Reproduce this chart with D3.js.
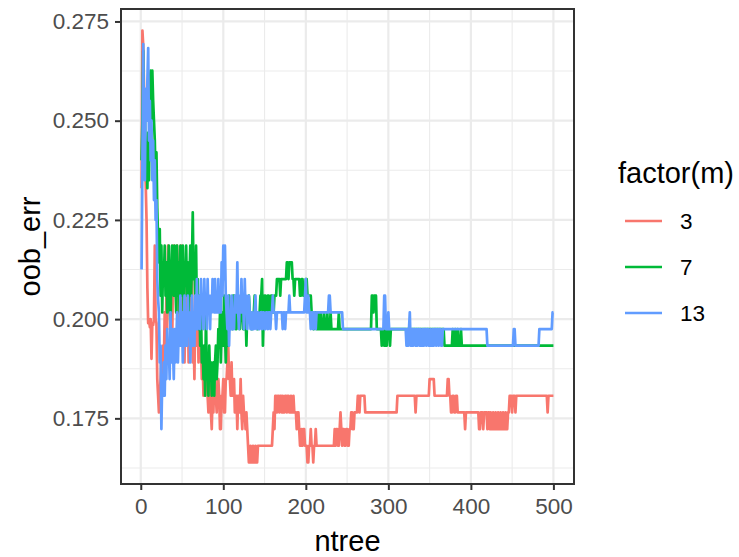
<!DOCTYPE html>
<html>
<head>
<meta charset="utf-8">
<script src="https://cdn.jsdelivr.net/npm/d3@7"></script>
<style>
  html, body { margin: 0; padding: 0; background: #fff; }
  svg text { font-family: "Liberation Sans", Arial, Helvetica, sans-serif; }
</style>
</head>
<body>
<svg id="chart" width="739" height="557"></svg>
<script>
// cambios de la serie: [ntree, oob_err] cada vez que el valor cambia
const cambios3 = [
  [1,.2330],[2,.2727],[3,.2690],[4,.2580],[5,.2440],[6,.2340],[7,.2250],[8,.2080],[9,.1990],[10,.2000],
  [11,.1980],[12,.2000],[13,.1900],[14,.1990],[15,.1985],[16,.2000],[17,.2185],[18,.2000],[19,.1990],[20,.1849],
  [21,.1807],[22,.1765],[23,.1807],[24,.1849],[25,.1891],[26,.1849],[27,.1933],[28,.1891],[29,.2017],[30,.1933],
  [31,.2059],[32,.1975],[33,.2185],[34,.2101],[35,.2017],[36,.2143],[37,.2059],[38,.1933],[39,.2101],[40,.2185],
  [41,.2059],[42,.2143],[43,.2017],[44,.2185],[45,.2101],[46,.1975],[47,.2143],[48,.2059],[49,.2185],[50,.2017],
  [51,.1933],[52,.2059],[53,.1891],[54,.2017],[55,.1933],[56,.2143],[57,.2059],[58,.1891],[59,.2017],[60,.2101],
  [61,.1975],[62,.2143],[63,.1891],[64,.1975],[65,.1849],[66,.2017],[67,.2101],[68,.1933],[69,.2017],[70,.1891],
  [71,.1975],[72,.2059],[73,.1933],[74,.1849],[75,.1891],[76,.1807],[77,.1849],[78,.1933],[79,.1891],[80,.1849],
  [81,.1807],[82,.1765],[83,.1849],[84,.1807],[85,.1765],[86,.1723],[87,.1807],[88,.1765],[89,.1849],[90,.1807],
  [92,.1765],[93,.1849],[95,.1807],[96,.1723],[98,.1807],[100,.1849],[101,.1765],[103,.1849],[105,.1891],[106,.1933],
  [107,.1849],[109,.1807],[110,.1891],[111,.1807],[113,.1849],[114,.1765],[116,.1807],[117,.1723],[118,.1807],[120,.1765],
  [121,.1849],[122,.1765],[123,.1723],[124,.1807],[125,.1765],[127,.1723],[128,.1765],[129,.1723],[130,.1681],[131,.1639],
  [133,.1681],[134,.1639],[136,.1681],[137,.1639],[139,.1681],[140,.1639],[142,.1681],[160,.1723],[161,.1765],[162,.1723],
  [163,.1807],[165,.1765],[166,.1807],[168,.1765],[169,.1807],[171,.1765],[172,.1807],[173,.1765],[175,.1807],[177,.1765],
  [178,.1807],[180,.1765],[182,.1807],[183,.1765],[185,.1807],[186,.1765],[189,.1723],[190,.1765],[192,.1723],[193,.1681],
  [195,.1723],[196,.1681],[197,.1723],[199,.1681],[202,.1639],[204,.1681],[206,.1723],[207,.1681],[209,.1639],[210,.1681],
  [212,.1723],[213,.1681],[235,.1723],[236,.1681],[237,.1723],[239,.1681],[241,.1723],[242,.1765],[243,.1723],[244,.1681],
  [245,.1723],[247,.1681],[249,.1723],[251,.1681],[253,.1723],[255,.1765],[257,.1723],[259,.1765],[263,.1807],[265,.1765],
  [266,.1807],[272,.1765],[311,.1807],[333,.1765],[334,.1807],[350,.1849],[356,.1807],[372,.1849],[374,.1807],[376,.1765],
  [378,.1807],[380,.1765],[382,.1807],[384,.1765],[393,.1723],[394,.1765],[410,.1723],[412,.1765],[415,.1723],[416,.1765],
  [420,.1723],[421,.1765],[423,.1723],[424,.1765],[425,.1723],[427,.1765],[428,.1723],[430,.1765],[431,.1723],[433,.1765],
  [434,.1723],[436,.1765],[437,.1723],[439,.1765],[440,.1723],[442,.1765],[443,.1723],[445,.1765],[447,.1807],[450,.1765],
  [451,.1807],[454,.1765],[455,.1807],[493,.1765],[494,.1807]
];

const cambios7 = [
  [1,.2400],[2,.2500],[3,.2676],[4,.2450],[5,.2520],[6,.2380],[7,.2420],[8,.2330],[9,.2470],[10,.2350],
  [11,.2600],[12,.2626],[13,.2500],[14,.2626],[15,.2550],[16,.2500],[17,.2450],[18,.2350],[19,.2420],[20,.2280],
  [21,.2200],[22,.2143],[23,.2227],[24,.2059],[25,.2185],[26,.2017],[27,.2143],[28,.2101],[29,.2185],[30,.2059],
  [31,.2143],[32,.2017],[33,.2101],[34,.2185],[35,.2059],[36,.1975],[37,.2101],[38,.2185],[39,.2143],[40,.2059],
  [41,.2185],[42,.2101],[43,.2017],[44,.2185],[45,.2059],[46,.2143],[47,.2017],[48,.2185],[49,.2101],[50,.2059],
  [51,.2185],[52,.2017],[53,.2143],[54,.2101],[55,.2185],[56,.2059],[57,.2143],[58,.2017],[59,.2101],[60,.2185],
  [61,.2059],[62,.2143],[63,.2269],[64,.2101],[65,.2143],[66,.2059],[67,.2185],[68,.2017],[69,.2101],[70,.1975],
  [71,.2059],[72,.1933],[73,.2017],[74,.1891],[75,.1933],[76,.1849],[77,.1933],[78,.1807],[79,.2017],[80,.1849],
  [81,.1891],[82,.1807],[83,.1933],[84,.1849],[85,.1891],[86,.1807],[87,.1849],[88,.1891],[89,.1807],[90,.1891],
  [91,.1933],[92,.1849],[93,.1891],[94,.1975],[95,.1933],[96,.2017],[97,.1891],[98,.1975],[99,.2017],[100,.1933],
  [101,.2059],[102,.1975],[103,.1891],[104,.1975],[105,.2017],[106,.1933],[107,.2059],[108,.1975],[109,.2017],[111,.1975],
  [112,.2059],[114,.2017],[115,.1975],[117,.2059],[118,.2017],[120,.1975],[121,.2017],[123,.2059],[124,.1975],[126,.2017],
  [128,.1933],[129,.2017],[131,.2059],[132,.2017],[134,.1975],[136,.2017],[138,.2059],[139,.2017],[141,.1975],[143,.2017],
  [145,.2059],[147,.2101],[148,.1933],[149,.2017],[150,.2059],[152,.2017],[154,.2059],[156,.2017],[158,.2059],[160,.2017],
  [162,.2059],[165,.2101],[169,.2059],[170,.2101],[177,.2143],[179,.2101],[180,.2143],[184,.2101],[186,.2059],[187,.2101],
  [193,.2059],[195,.2101],[197,.2059],[200,.2101],[202,.2059],[207,.2017],[209,.1975],[211,.2017],[213,.1975],[215,.2017],
  [216,.1975],[218,.2017],[219,.1975],[222,.2017],[223,.1975],[226,.2017],[227,.1975],[230,.2017],[231,.1975],[240,.2017],
  [241,.1975],[280,.2059],[282,.2017],[283,.2059],[286,.1975],[292,.1933],[293,.1975],[295,.1933],[296,.1975],[297,.1933],
  [299,.1975],[302,.1933],[303,.1975],[368,.1933],[378,.1975],[379,.1933],[381,.1975],[382,.1933],[384,.1975],[385,.1933],
  [388,.1975],[389,.1933]
];

const cambios13 = [
  [1,.2125],[2,.2400],[3,.2693],[4,.2450],[5,.2350],[6,.2580],[7,.2500],[8,.2600],[9,.2683],[10,.2450],
  [11,.2550],[12,.2400],[13,.2500],[14,.2350],[15,.2450],[16,.2300],[17,.2400],[18,.2250],[19,.2300],[20,.2100],
  [21,.2050],[22,.2017],[23,.1891],[24,.1933],[25,.1723],[26,.1849],[27,.1807],[28,.1891],[29,.1807],[30,.1933],
  [31,.1849],[32,.1975],[33,.1891],[34,.1933],[35,.1849],[36,.2017],[37,.1891],[38,.1975],[39,.1933],[40,.1849],
  [41,.1975],[42,.1891],[43,.1933],[44,.2017],[45,.1891],[46,.1975],[47,.1933],[48,.2059],[49,.1933],[50,.2017],
  [51,.1891],[52,.1975],[53,.2059],[54,.1933],[55,.2017],[56,.1933],[57,.2059],[58,.1975],[59,.2017],[60,.1891],
  [61,.1975],[62,.2059],[63,.1933],[64,.2017],[65,.1933],[66,.2059],[67,.1975],[68,.2101],[69,.1975],[70,.2017],
  [71,.2059],[72,.1975],[73,.2101],[74,.2017],[75,.2059],[76,.1975],[77,.2101],[78,.2017],[79,.2059],[80,.1975],
  [81,.2101],[82,.2017],[83,.2059],[84,.1975],[85,.2059],[86,.2017],[87,.2101],[88,.2059],[89,.2017],[90,.2101],
  [91,.2017],[92,.2059],[93,.2017],[94,.2101],[95,.2017],[96,.2059],[97,.2017],[98,.2143],[99,.2059],[100,.2185],
  [101,.2101],[102,.2185],[103,.2059],[104,.2017],[105,.1975],[106,.2059],[107,.1933],[108,.2017],[109,.1975],[110,.2059],
  [111,.1975],[112,.2017],[113,.1975],[114,.2059],[116,.2017],[117,.2143],[118,.2017],[119,.1975],[120,.2059],[121,.2017],
  [122,.2101],[123,.2017],[124,.2059],[125,.1975],[126,.2101],[127,.2017],[128,.2059],[129,.1975],[130,.2017],[131,.2059],
  [132,.2017],[133,.1975],[135,.2017],[136,.1975],[138,.2017],[139,.2059],[140,.1975],[141,.2017],[143,.1975],[145,.2017],
  [147,.1975],[148,.2017],[150,.1975],[152,.2017],[154,.1975],[155,.2017],[157,.1975],[158,.2017],[160,.2059],[161,.2017],
  [164,.1975],[165,.2017],[172,.1975],[173,.2017],[175,.1975],[176,.2017],[180,.2059],[181,.2017],[199,.2059],[200,.2101],
  [201,.2017],[203,.2059],[204,.2017],[206,.1975],[207,.2017],[209,.1975],[210,.2017],[212,.1975],[213,.2017],[228,.2059],
  [230,.2017],[245,.1975],[295,.2059],[297,.1975],[300,.2017],[301,.1975],[322,.1933],[323,.1975],[324,.1933],[325,.1975],
  [326,.2017],[327,.1933],[329,.1975],[330,.1933],[331,.1975],[333,.1933],[334,.1975],[335,.1933],[336,.1975],[338,.1933],
  [339,.1975],[340,.1933],[342,.1975],[343,.1933],[344,.1975],[346,.1933],[347,.1975],[349,.1933],[351,.1975],[352,.1933],
  [354,.1975],[355,.1933],[356,.1975],[358,.1933],[359,.1975],[361,.1933],[362,.1975],[364,.1933],[366,.1975],[420,.1933],
  [452,.1975],[454,.1933],[483,.1975],[499,.2017]
];

const grupos = ["3", "7", "13"];
const colores = ["#F8766D", "#00BA38", "#619CFF"];
const ticksX = [0, 100, 200, 300, 400, 500];
const ticksY = [0.175, 0.200, 0.225, 0.250, 0.275];
const menoresX = [50, 150, 250, 350, 450];
const menoresY = [0.1625, 0.1875, 0.2125, 0.2375, 0.2625];
const NTREE_MAX = 500;

// de los cambios a un valor por árbol
function expandir(cambios) {
  const serie = [];
  let j = 0;
  for (let n = 1; n <= NTREE_MAX; n++) {
    while (j + 1 < cambios.length && cambios[j + 1][0] <= n) j++;
    serie.push({ ntree: n, oob_err: cambios[j][1] });
  }
  return serie;
}

const series = [cambios3, cambios7, cambios13].map((c, i) => ({
  m: grupos[i],
  valores: expandir(c)
}));

const panel = { left: 121, top: 9, right: 574, bottom: 484 };

const todos = series.flatMap(s => s.valores);
const [xMin, xMax] = d3.extent(todos, d => d.ntree);
const [yMin, yMax] = d3.extent(todos, d => d.oob_err);
const expX = (xMax - xMin) * 0.05;
const expY = (yMax - yMin) * 0.05;

const x = d3.scaleLinear().domain([xMin - expX, xMax + expX]).range([panel.left, panel.right]);
const y = d3.scaleLinear().domain([yMin - expY, yMax + expY]).range([panel.bottom, panel.top]);
const color = d3.scaleOrdinal().domain(grupos).range(colores);

const svg = d3.select("#chart");

svg.append("rect")
  .attr("width", 739).attr("height", 557).attr("fill", "#fff");

// rejilla
const rejilla = svg.append("g");
rejilla.selectAll(".vmen").data(menoresX).join("line")
  .attr("x1", d => x(d)).attr("x2", d => x(d))
  .attr("y1", panel.top).attr("y2", panel.bottom)
  .attr("stroke", "#EBEBEB").attr("stroke-width", 1.1);
rejilla.selectAll(".hmen").data(menoresY).join("line")
  .attr("y1", d => y(d)).attr("y2", d => y(d))
  .attr("x1", panel.left).attr("x2", panel.right)
  .attr("stroke", "#EBEBEB").attr("stroke-width", 1.1);
rejilla.selectAll(".vmay").data(ticksX).join("line")
  .attr("x1", d => x(d)).attr("x2", d => x(d))
  .attr("y1", panel.top).attr("y2", panel.bottom)
  .attr("stroke", "#EBEBEB").attr("stroke-width", 2.2);
rejilla.selectAll(".hmay").data(ticksY).join("line")
  .attr("y1", d => y(d)).attr("y2", d => y(d))
  .attr("x1", panel.left).attr("x2", panel.right)
  .attr("stroke", "#EBEBEB").attr("stroke-width", 2.2);

// lineas
const linea = d3.line()
  .x(d => x(d.ntree))
  .y(d => y(d.oob_err));

svg.append("g")
  .selectAll("path")
  .data(series)
  .join("path")
  .attr("d", d => linea(d.valores))
  .attr("fill", "none")
  .attr("stroke", d => color(d.m))
  .attr("stroke-width", 2.7)
  .attr("stroke-linejoin", "round");

// borde del panel
svg.append("rect")
  .attr("x", panel.left).attr("y", panel.top)
  .attr("width", panel.right - panel.left)
  .attr("height", panel.bottom - panel.top)
  .attr("fill", "none")
  .attr("stroke", "#333333")
  .attr("stroke-width", 2);

// ejes
const ejeX = svg.append("g")
  .attr("transform", `translate(0,${panel.bottom})`)
  .call(d3.axisBottom(x).tickValues(ticksX).tickSize(6).tickPadding(8).tickFormat(d3.format("d")));
const ejeY = svg.append("g")
  .attr("transform", `translate(${panel.left},0)`)
  .call(d3.axisLeft(y).tickValues(ticksY).tickSize(6).tickPadding(6).tickFormat(d3.format(".3f")));

[ejeX, ejeY].forEach(eje => {
  eje.select(".domain").remove();
  eje.selectAll(".tick line").attr("stroke", "#333333").attr("stroke-width", 2);
  eje.selectAll(".tick text")
    .attr("fill", "#4D4D4D")
    .style("font-size", "22.5px");
});

svg.append("text")
  .attr("x", (panel.left + panel.right) / 2)
  .attr("y", 551)
  .attr("text-anchor", "middle")
  .style("font-size", "29px")
  .attr("fill", "#000")
  .text("ntree");

svg.append("text")
  .attr("transform", `translate(40,${(panel.top + panel.bottom) / 2}) rotate(-90)`)
  .attr("text-anchor", "middle")
  .style("font-size", "29px")
  .attr("fill", "#000")
  .text("oob_err");

// leyenda
const leyenda = svg.append("g").attr("transform", "translate(618,0)");

leyenda.append("text")
  .attr("x", 0)
  .attr("y", 183)
  .style("font-size", "29px")
  .attr("fill", "#000")
  .text("factor(m)");

const items = leyenda.selectAll(".item")
  .data(grupos)
  .join("g")
  .attr("transform", (d, i) => `translate(0,${221 + i * 46})`);

items.append("line")
  .attr("x1", 7).attr("x2", 44)
  .attr("stroke", d => color(d))
  .attr("stroke-width", 2.7);

items.append("text")
  .attr("x", 62)
  .attr("y", 8)
  .style("font-size", "22.5px")
  .attr("fill", "#000")
  .text(d => d);
</script>
</body>
</html>
